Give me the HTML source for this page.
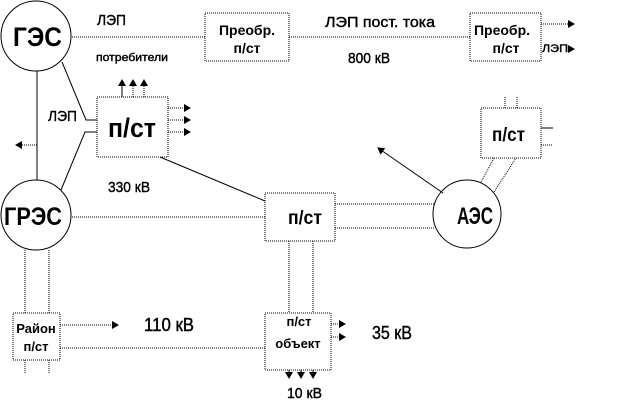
<!DOCTYPE html>
<html><head><meta charset="utf-8"><style>
html,body{margin:0;padding:0;background:#fff;}
svg{display:block;}
text{font-family:"Liberation Sans",Arial,sans-serif;fill:#000;}
</style></head><body>
<svg width="625" height="402" viewBox="0 0 625 402" xmlns="http://www.w3.org/2000/svg">
<defs>
<marker id="a" markerWidth="8" markerHeight="8" refX="6" refY="4" orient="auto" markerUnits="userSpaceOnUse"><path d="M0,0 L7,4 L0,8 z" fill="#000"/></marker>
</defs>
<g stroke="#000" stroke-width="1" fill="none">
<circle cx="36" cy="36" r="35" fill="#fff"/>
<circle cx="36" cy="215" r="35" fill="#fff"/>
<circle cx="467" cy="214" r="34" fill="#fff"/>
<line x1="37" y1="71" x2="37" y2="180"/>
<line x1="37" y1="145" x2="16" y2="145" marker-end="url(#a)" stroke-dasharray="1,1"/>
<polyline points="62,62 86,120 97,120"/>
<polyline points="61,190 85,132 97,132"/>
<rect x="97" y="97" width="71" height="60" stroke-dasharray="1,1"/>
<line x1="122" y1="97" x2="122" y2="80" marker-end="url(#a)"/>
<line x1="133" y1="97" x2="133" y2="80" marker-end="url(#a)" stroke-dasharray="1,1"/>
<line x1="144" y1="97" x2="144" y2="80" marker-end="url(#a)" stroke-dasharray="1,1"/>
<line x1="168" y1="108" x2="190" y2="108" marker-end="url(#a)" stroke-dasharray="1,1"/>
<line x1="168" y1="120" x2="190" y2="120" marker-end="url(#a)" stroke-dasharray="1,1"/>
<line x1="168" y1="132" x2="190" y2="132" marker-end="url(#a)" stroke-dasharray="1,1"/>
<line x1="160" y1="157" x2="265" y2="201"/>
<line x1="72" y1="37" x2="205" y2="37" stroke-dasharray="1,1"/>
<rect x="205" y="13" width="84" height="48" stroke-dasharray="1,1"/>
<line x1="289" y1="37" x2="470" y2="37" stroke-dasharray="1,1"/>
<rect x="470" y="13" width="71" height="48" stroke-dasharray="1,1"/>
<line x1="541" y1="24" x2="574" y2="24" marker-end="url(#a)" stroke-dasharray="1,1"/>
<line x1="568" y1="49" x2="574" y2="49" marker-end="url(#a)"/>
<line x1="72" y1="217" x2="265" y2="217" stroke-dasharray="1,1"/>
<rect x="265" y="193" width="70" height="48" stroke-dasharray="1,1"/>
<line x1="335" y1="204" x2="434" y2="204" stroke-dasharray="1,1"/>
<line x1="335" y1="228" x2="434" y2="228" stroke-dasharray="1,1"/>
<line x1="443" y1="193" x2="378" y2="148" marker-end="url(#a)"/>
<rect x="481" y="108" width="60" height="50" stroke-dasharray="1,1"/>
<line x1="505" y1="97" x2="505" y2="108" stroke-dasharray="1,1"/>
<line x1="517" y1="97" x2="517" y2="108" stroke-dasharray="1,1"/>
<line x1="541" y1="128" x2="553" y2="128"/>
<line x1="541" y1="145" x2="553" y2="145" stroke-dasharray="1,1"/>
<line x1="481" y1="182" x2="494" y2="158" stroke-dasharray="1,1"/>
<line x1="494" y1="192" x2="516" y2="158" stroke-dasharray="1,1"/>
<line x1="289" y1="241" x2="289" y2="313" stroke-dasharray="1,1"/>
<line x1="313" y1="241" x2="313" y2="313" stroke-dasharray="1,1"/>
<rect x="265" y="313" width="66" height="57" stroke-dasharray="1,1"/>
<line x1="331" y1="324" x2="345" y2="324" marker-end="url(#a)" stroke-dasharray="1,1"/>
<line x1="331" y1="337" x2="345" y2="337" marker-end="url(#a)" stroke-dasharray="1,1"/>
<line x1="289" y1="370" x2="289" y2="378" marker-end="url(#a)"/>
<line x1="301" y1="370" x2="301" y2="378" marker-end="url(#a)"/>
<line x1="313" y1="370" x2="313" y2="378" marker-end="url(#a)"/>
<line x1="25" y1="250" x2="25" y2="313" stroke-dasharray="1,1"/>
<line x1="49" y1="250" x2="49" y2="313" stroke-dasharray="1,1"/>
<rect x="13" y="313" width="47" height="47" stroke-dasharray="1,1"/>
<line x1="25" y1="360" x2="25" y2="374" stroke-dasharray="1,1"/>
<line x1="49" y1="360" x2="49" y2="374" stroke-dasharray="1,1"/>
<line x1="60" y1="325" x2="118" y2="325" marker-end="url(#a)" stroke-dasharray="1,1"/>
<line x1="60" y1="348" x2="265" y2="348" stroke-dasharray="1,1"/>
</g>
<g font-weight="bold" lengthAdjust="spacingAndGlyphs">
<text x="13" y="46" font-size="27" textLength="49" lengthAdjust="spacingAndGlyphs">ГЭС</text>
<text x="4" y="225" font-size="25" textLength="58" lengthAdjust="spacingAndGlyphs">ГРЭС</text>
<text x="457" y="224" font-size="24" textLength="36" lengthAdjust="spacingAndGlyphs">АЭС</text>
<text x="108" y="137" font-size="27" textLength="48" lengthAdjust="spacingAndGlyphs">п/ст</text>
<text x="288" y="224" font-size="19" textLength="34" lengthAdjust="spacingAndGlyphs">п/ст</text>
<text x="492" y="141" font-size="19" textLength="33" lengthAdjust="spacingAndGlyphs">п/ст</text>
</g>
<g font-weight="bold" text-anchor="middle">
<text x="247" y="35" font-size="14">Преобр.</text>
<text x="247" y="53" font-size="14">п/ст</text>
<text x="502" y="35" font-size="14">Преобр.</text>
<text x="506" y="53" font-size="14">п/ст</text>
<text x="36" y="333" font-size="13">Район</text>
<text x="36" y="351" font-size="13">п/ст</text>
<text x="299" y="326" font-size="13">п/ст</text>
<text x="298" y="348" font-size="13">объект</text>
</g>
<g font-size="15" stroke="#000" stroke-width="0.4">
<text x="97" y="25" textLength="29" lengthAdjust="spacingAndGlyphs">ЛЭП</text>
<text x="48" y="121" textLength="29" lengthAdjust="spacingAndGlyphs">ЛЭП</text>
<text x="108" y="192" textLength="42" lengthAdjust="spacingAndGlyphs">330 кВ</text>
<text x="325" y="27" textLength="110" lengthAdjust="spacingAndGlyphs">ЛЭП пост. тока</text>
<text x="348" y="63" textLength="42" lengthAdjust="spacingAndGlyphs">800 кВ</text>
<text x="144" y="331" font-size="18" textLength="50" lengthAdjust="spacingAndGlyphs">110 кВ</text>
<text x="372" y="339" font-size="18" textLength="40" lengthAdjust="spacingAndGlyphs">35 кВ</text>
<text x="287" y="398" textLength="35" lengthAdjust="spacingAndGlyphs">10 кВ</text>
<text x="542" y="52" font-size="11" textLength="26" lengthAdjust="spacingAndGlyphs">ЛЭП</text>
<text x="96" y="61" font-size="11" textLength="72" lengthAdjust="spacingAndGlyphs">потребители</text>
</g>
</svg>
</body></html>
